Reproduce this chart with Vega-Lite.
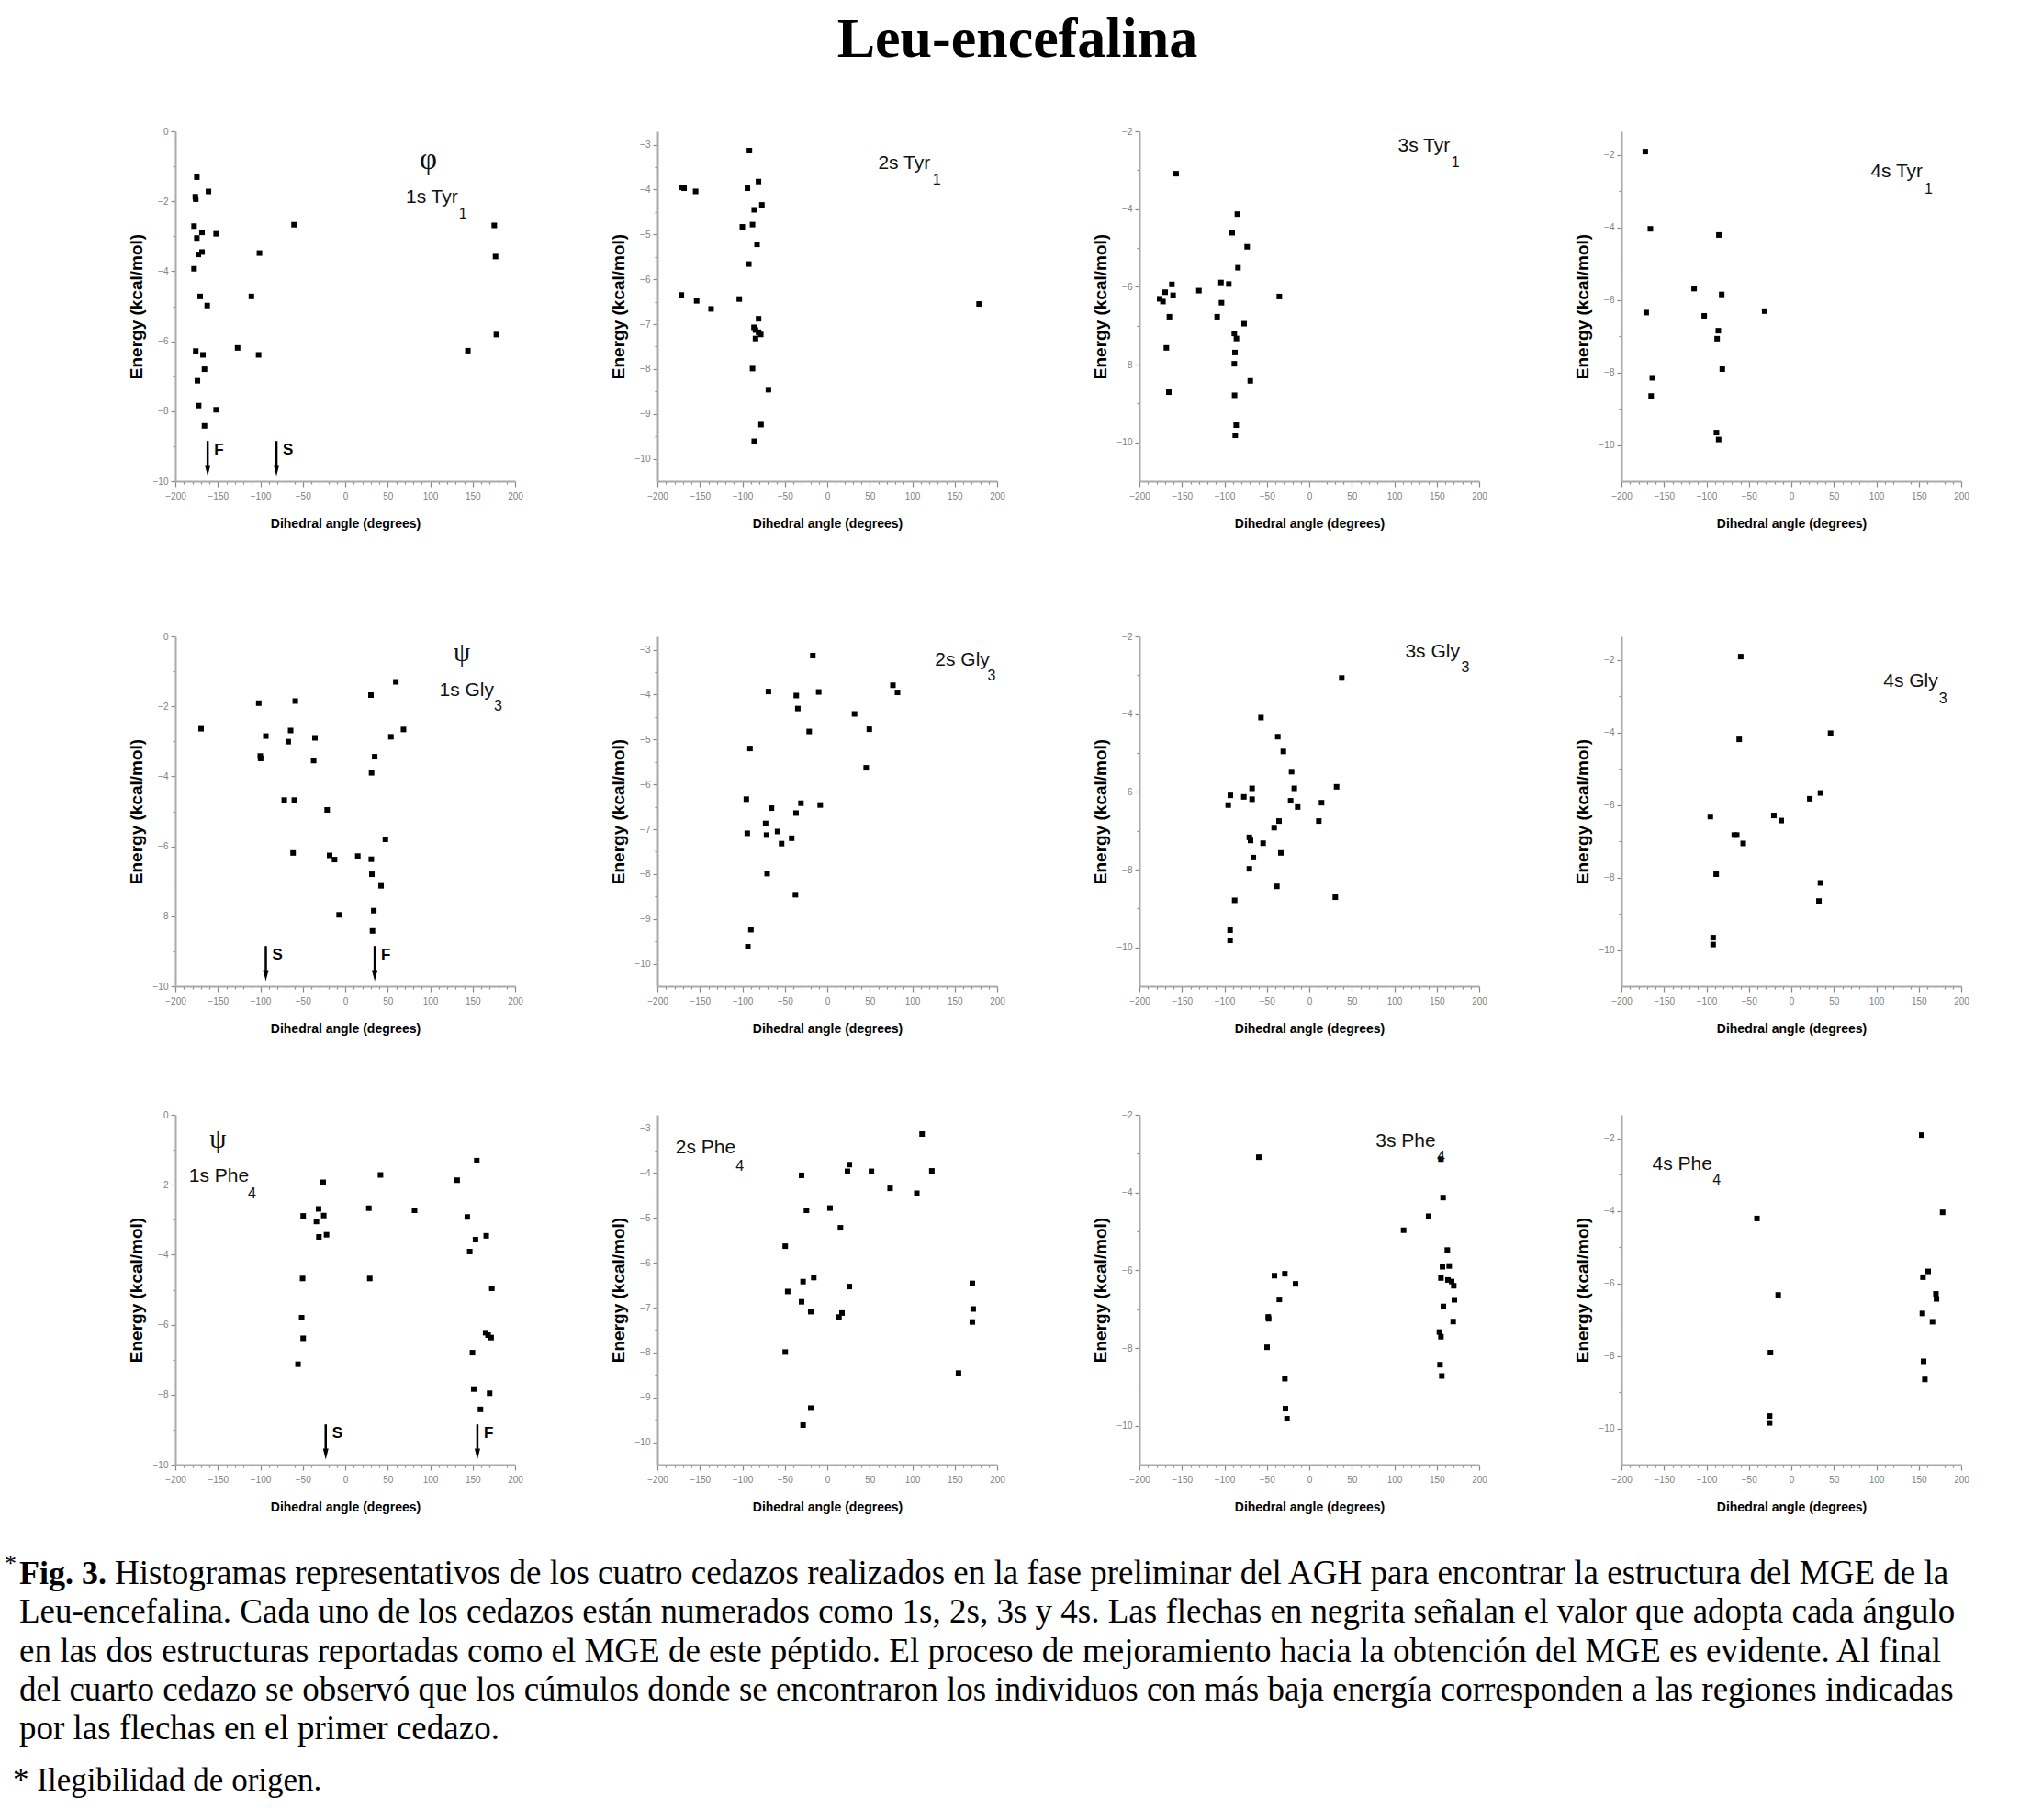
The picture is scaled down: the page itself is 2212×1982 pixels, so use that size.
{
"$schema":"https://vega.github.io/schema/vega-lite/v6.json",
"background":"white",
"padding":{"left":5,"right":10,"top":12,"bottom":10},
"title":{"text":"Leu-encefalina","font":"Liberation Serif","fontSize":62,"fontWeight":"bold","color":"#000","anchor":"middle","frame":"bounds","offset":63,"dx":15},
"datasets":{
"pts":[
{"p":1,"a":-174.7,"e":-1.31},{"p":1,"a":-161,"e":-1.72},{"p":1,"a":-176.5,"e":-1.87},{"p":1,"a":-176,"e":-1.94},{"p":1,"a":-178,"e":-2.71},{"p":1,"a":-60.3,"e":-2.67},{"p":1,"a":175.5,"e":-2.69},{"p":1,"a":-168.6,"e":-2.89},{"p":1,"a":-152,"e":-2.93},{"p":1,"a":-174.7,"e":-3.05},{"p":1,"a":-168.6,"e":-3.45},{"p":1,"a":-173,"e":-3.52},{"p":1,"a":-101,"e":-3.48},{"p":1,"a":177,"e":-3.58},{"p":1,"a":-178,"e":-3.93},{"p":1,"a":-170.8,"e":-4.72},{"p":1,"a":-162.5,"e":-4.98},{"p":1,"a":-110.5,"e":-4.72},{"p":1,"a":178,"e":-5.81},{"p":1,"a":144.4,"e":-6.27},{"p":1,"a":-126.7,"e":-6.19},{"p":1,"a":-102,"e":-6.39},{"p":1,"a":-176,"e":-6.28},{"p":1,"a":-167.5,"e":-6.39},{"p":1,"a":-165.7,"e":-6.8},{"p":1,"a":-174,"e":-7.13},{"p":1,"a":-172.6,"e":-7.84},{"p":1,"a":-152,"e":-7.96},{"p":1,"a":-165.7,"e":-8.42},
{"p":2,"a":-91.7,"e":-3.13},{"p":2,"a":-171,"e":-3.95},{"p":2,"a":-168.6,"e":-3.97},{"p":2,"a":-155,"e":-4.04},{"p":2,"a":-94,"e":-3.97},{"p":2,"a":-81,"e":-3.82},{"p":2,"a":-86,"e":-4.45},{"p":2,"a":-77,"e":-4.34},{"p":2,"a":-100,"e":-4.83},{"p":2,"a":-88,"e":-4.78},{"p":2,"a":-82.7,"e":-5.22},{"p":2,"a":-92.4,"e":-5.66},{"p":2,"a":-171.8,"e":-6.35},{"p":2,"a":-153.8,"e":-6.48},{"p":2,"a":-136.8,"e":-6.66},{"p":2,"a":-103.6,"e":-6.44},{"p":2,"a":178.7,"e":-6.55},{"p":2,"a":-80.9,"e":-6.88},{"p":2,"a":-86.3,"e":-7.07},{"p":2,"a":-84.5,"e":-7.13},{"p":2,"a":-80.9,"e":-7.18},{"p":2,"a":-78.3,"e":-7.23},{"p":2,"a":-84.5,"e":-7.32},{"p":2,"a":-88,"e":-7.99},{"p":2,"a":-69.3,"e":-8.46},{"p":2,"a":-78,"e":-9.24},{"p":2,"a":-86,"e":-9.61},
{"p":3,"a":-156.8,"e":-3.09},{"p":3,"a":-84.7,"e":-4.13},{"p":3,"a":-90.8,"e":-4.61},{"p":3,"a":-73.2,"e":-4.97},{"p":3,"a":-84,"e":-5.51},{"p":3,"a":-104,"e":-5.89},{"p":3,"a":-94.8,"e":-5.93},{"p":3,"a":-161.8,"e":-5.94},{"p":3,"a":-169.7,"e":-6.14},{"p":3,"a":-160.4,"e":-6.22},{"p":3,"a":-130,"e":-6.1},{"p":3,"a":-176.2,"e":-6.31},{"p":3,"a":-172.3,"e":-6.38},{"p":3,"a":-103.4,"e":-6.41},{"p":3,"a":-35.3,"e":-6.25},{"p":3,"a":-164.7,"e":-6.77},{"p":3,"a":-108.5,"e":-6.77},{"p":3,"a":-76.8,"e":-6.95},{"p":3,"a":-88.3,"e":-7.2},{"p":3,"a":-85.8,"e":-7.33},{"p":3,"a":-87.6,"e":-7.69},{"p":3,"a":-88.3,"e":-7.98},{"p":3,"a":-69.5,"e":-8.42},{"p":3,"a":-168.3,"e":-7.57},{"p":3,"a":-165.4,"e":-8.71},{"p":3,"a":-88,"e":-8.79},{"p":3,"a":-86.1,"e":-9.56},{"p":3,"a":-87.2,"e":-9.82},
{"p":4,"a":-172,"e":-1.91},{"p":4,"a":-166,"e":-4.04},{"p":4,"a":-85.3,"e":-4.21},{"p":4,"a":-114.5,"e":-5.69},{"p":4,"a":-82,"e":-5.85},{"p":4,"a":-170.9,"e":-6.35},{"p":4,"a":-102.6,"e":-6.44},{"p":4,"a":-31.4,"e":-6.31},{"p":4,"a":-86,"e":-6.85},{"p":4,"a":-87.4,"e":-7.07},{"p":4,"a":-81.3,"e":-7.91},{"p":4,"a":-163.7,"e":-8.15},{"p":4,"a":-165.1,"e":-8.65},{"p":4,"a":-88.2,"e":-9.66},{"p":4,"a":-85.6,"e":-9.85},
{"p":5,"a":-169.7,"e":-2.64},{"p":5,"a":-101.8,"e":-1.91},{"p":5,"a":-58.8,"e":-1.85},{"p":5,"a":-64.3,"e":-2.69},{"p":5,"a":-93.5,"e":-2.85},{"p":5,"a":-67.1,"e":-3.01},{"p":5,"a":-35.7,"e":-2.9},{"p":5,"a":-100,"e":-3.42},{"p":5,"a":-99.6,"e":-3.49},{"p":5,"a":-37.2,"e":-3.55},{"p":5,"a":-71.8,"e":-4.68},{"p":5,"a":-59.9,"e":-4.68},{"p":5,"a":-21.3,"e":-4.96},{"p":5,"a":-61.4,"e":-6.19},{"p":5,"a":-18.4,"e":-6.26},{"p":5,"a":-12.6,"e":-6.38},{"p":5,"a":14.8,"e":-6.28},{"p":5,"a":30.7,"e":-6.37},{"p":5,"a":30.3,"e":-1.68},{"p":5,"a":59.6,"e":-1.3},{"p":5,"a":68.6,"e":-2.66},{"p":5,"a":53.8,"e":-2.87},{"p":5,"a":34.7,"e":-3.44},{"p":5,"a":31,"e":-3.9},{"p":5,"a":47.3,"e":-5.8},{"p":5,"a":31.4,"e":-6.8},{"p":5,"a":42.2,"e":-7.13},{"p":5,"a":33.6,"e":-7.84},{"p":5,"a":-7.2,"e":-7.96},{"p":5,"a":32.1,"e":-8.42},
{"p":6,"a":-17,"e":-3.13},{"p":6,"a":-69.3,"e":-3.93},{"p":6,"a":-36.5,"e":-4.02},{"p":6,"a":-10.1,"e":-3.94},{"p":6,"a":-34.7,"e":-4.31},{"p":6,"a":-21.3,"e":-4.82},{"p":6,"a":77.3,"e":-3.79},{"p":6,"a":82.7,"e":-3.95},{"p":6,"a":32.1,"e":-4.43},{"p":6,"a":49.5,"e":-4.77},{"p":6,"a":-91,"e":-5.2},{"p":6,"a":45.8,"e":-5.63},{"p":6,"a":-95.3,"e":-6.33},{"p":6,"a":-65.7,"e":-6.53},{"p":6,"a":-31,"e":-6.42},{"p":6,"a":-8.3,"e":-6.46},{"p":6,"a":-36.8,"e":-6.64},{"p":6,"a":-72.6,"e":-6.87},{"p":6,"a":-94.2,"e":-7.09},{"p":6,"a":-71.5,"e":-7.13},{"p":6,"a":-58.5,"e":-7.05},{"p":6,"a":-53.8,"e":-7.32},{"p":6,"a":-41.9,"e":-7.2},{"p":6,"a":-70.8,"e":-7.99},{"p":6,"a":-37.5,"e":-8.46},{"p":6,"a":-89.9,"e":-9.24},{"p":6,"a":-93.5,"e":-9.62},
{"p":7,"a":38.2,"e":-3.07},{"p":7,"a":-56.9,"e":-4.09},{"p":7,"a":-37.1,"e":-4.58},{"p":7,"a":-30.6,"e":-4.96},{"p":7,"a":-20.9,"e":-5.48},{"p":7,"a":-17.7,"e":-5.91},{"p":7,"a":32.1,"e":-5.87},{"p":7,"a":-93,"e":-6.09},{"p":7,"a":-77.1,"e":-6.13},{"p":7,"a":-67.4,"e":-5.91},{"p":7,"a":-67.4,"e":-6.19},{"p":7,"a":-95.5,"e":-6.34},{"p":7,"a":-22,"e":-6.23},{"p":7,"a":-13.7,"e":-6.39},{"p":7,"a":14.4,"e":-6.28},{"p":7,"a":-35.7,"e":-6.75},{"p":7,"a":-41.4,"e":-6.92},{"p":7,"a":11.2,"e":-6.75},{"p":7,"a":-70.6,"e":-7.17},{"p":7,"a":-69.2,"e":-7.25},{"p":7,"a":-54.4,"e":-7.32},{"p":7,"a":-33.5,"e":-7.57},{"p":7,"a":-65.9,"e":-7.69},{"p":7,"a":-70.6,"e":-7.98},{"p":7,"a":-38.2,"e":-8.43},{"p":7,"a":30.6,"e":-8.71},{"p":7,"a":-87.9,"e":-8.79},{"p":7,"a":-93.3,"e":-9.56},{"p":7,"a":-93.3,"e":-9.82},
{"p":8,"a":-59.6,"e":-1.91},{"p":8,"a":-61.4,"e":-4.19},{"p":8,"a":46.2,"e":-4.02},{"p":8,"a":34.3,"e":-5.67},{"p":8,"a":21.7,"e":-5.83},{"p":8,"a":-95.4,"e":-6.32},{"p":8,"a":-20.6,"e":-6.29},{"p":8,"a":-11.9,"e":-6.43},{"p":8,"a":-67.2,"e":-6.83},{"p":8,"a":-64.3,"e":-6.83},{"p":8,"a":-56.7,"e":-7.06},{"p":8,"a":-88.5,"e":-7.91},{"p":8,"a":34.3,"e":-8.15},{"p":8,"a":32.5,"e":-8.65},{"p":8,"a":-92.1,"e":-9.66},{"p":8,"a":-92.1,"e":-9.85},
{"p":9,"a":-26,"e":-1.93},{"p":9,"a":-49.5,"e":-2.89},{"p":9,"a":-31.4,"e":-2.69},{"p":9,"a":-25.3,"e":-2.88},{"p":9,"a":-33.9,"e":-3.05},{"p":9,"a":-31,"e":-3.49},{"p":9,"a":-22,"e":-3.43},{"p":9,"a":-50.2,"e":-4.68},{"p":9,"a":-51.3,"e":-5.8},{"p":9,"a":-49.5,"e":-6.39},{"p":9,"a":-55.6,"e":-7.13},{"p":9,"a":27.8,"e":-2.67},{"p":9,"a":28.9,"e":-4.68},{"p":9,"a":41.5,"e":-1.72},{"p":9,"a":81.6,"e":-2.73},{"p":9,"a":131.8,"e":-1.87},{"p":9,"a":154.9,"e":-1.31},{"p":9,"a":143.7,"e":-2.92},{"p":9,"a":153.4,"e":-3.57},{"p":9,"a":166,"e":-3.46},{"p":9,"a":146.6,"e":-3.91},{"p":9,"a":172.6,"e":-4.96},{"p":9,"a":165.3,"e":-6.23},{"p":9,"a":168.2,"e":-6.3},{"p":9,"a":171.8,"e":-6.37},{"p":9,"a":149.8,"e":-6.8},{"p":9,"a":151.3,"e":-7.84},{"p":9,"a":170,"e":-7.96},{"p":9,"a":159.2,"e":-8.42},
{"p":10,"a":111.6,"e":-3.13},{"p":10,"a":-30.3,"e":-4.05},{"p":10,"a":26,"e":-3.81},{"p":10,"a":23.8,"e":-3.96},{"p":10,"a":52,"e":-3.96},{"p":10,"a":74,"e":-4.34},{"p":10,"a":105.4,"e":-4.45},{"p":10,"a":123.1,"e":-3.95},{"p":10,"a":-24.5,"e":-4.83},{"p":10,"a":3.2,"e":-4.78},{"p":10,"a":15.5,"e":-5.22},{"p":10,"a":-49.5,"e":-5.63},{"p":10,"a":-15.9,"e":-6.33},{"p":10,"a":-28.5,"e":-6.42},{"p":10,"a":-46.6,"e":-6.64},{"p":10,"a":26,"e":-6.53},{"p":10,"a":-30.3,"e":-6.87},{"p":10,"a":-19.5,"e":-7.09},{"p":10,"a":13.7,"e":-7.21},{"p":10,"a":17.3,"e":-7.12},{"p":10,"a":-49.5,"e":-7.99},{"p":10,"a":-19.5,"e":-9.24},{"p":10,"a":-28.5,"e":-9.62},{"p":10,"a":170.8,"e":-6.46},{"p":10,"a":171.8,"e":-7.03},{"p":10,"a":170.8,"e":-7.32},{"p":10,"a":154.5,"e":-8.46},
{"p":11,"a":-59.5,"e":-3.09},{"p":11,"a":-41.1,"e":-6.14},{"p":11,"a":-28.8,"e":-6.09},{"p":11,"a":-16.2,"e":-6.35},{"p":11,"a":-35.3,"e":-6.75},{"p":11,"a":-48.3,"e":-7.2},{"p":11,"a":-47.9,"e":-7.25},{"p":11,"a":-49.7,"e":-7.98},{"p":11,"a":-28.8,"e":-8.79},{"p":11,"a":-28.1,"e":-9.56},{"p":11,"a":-26.3,"e":-9.82},{"p":11,"a":155,"e":-3.14},{"p":11,"a":157.5,"e":-4.13},{"p":11,"a":140.5,"e":-4.61},{"p":11,"a":111,"e":-4.97},{"p":11,"a":162.5,"e":-5.48},{"p":11,"a":156.8,"e":-5.91},{"p":11,"a":164.7,"e":-5.89},{"p":11,"a":155,"e":-6.2},{"p":11,"a":163.2,"e":-6.25},{"p":11,"a":167.6,"e":-6.29},{"p":11,"a":170.1,"e":-6.4},{"p":11,"a":170.8,"e":-6.76},{"p":11,"a":157.8,"e":-6.93},{"p":11,"a":169.4,"e":-7.32},{"p":11,"a":153.2,"e":-7.59},{"p":11,"a":155,"e":-7.71},{"p":11,"a":153.9,"e":-8.43},{"p":11,"a":156,"e":-8.72},
{"p":12,"a":153.5,"e":-1.91},{"p":12,"a":-40.5,"e":-4.21},{"p":12,"a":178.1,"e":-4.04},{"p":12,"a":161.1,"e":-5.67},{"p":12,"a":155,"e":-5.83},{"p":12,"a":-15.5,"e":-6.32},{"p":12,"a":170.2,"e":-6.29},{"p":12,"a":170.9,"e":-6.43},{"p":12,"a":154.3,"e":-6.83},{"p":12,"a":166.2,"e":-7.06},{"p":12,"a":-24.6,"e":-7.91},{"p":12,"a":155.7,"e":-8.15},{"p":12,"a":157.2,"e":-8.65},{"p":12,"a":-25.6,"e":-9.66},{"p":12,"a":-25.6,"e":-9.85}
],
"lab":[
{"p":1,"a":102,"e":-1.9,"t":"1s Tyr","k":"main"},{"p":1,"a":138.6,"e":-2.36,"t":"1","k":"sub"},
{"p":2,"a":90.6,"e":-3.41,"t":"2s Tyr","k":"main"},{"p":2,"a":129,"e":-3.79,"t":"1","k":"sub"},
{"p":3,"a":135,"e":-2.37,"t":"3s Tyr","k":"main"},{"p":3,"a":172,"e":-2.81,"t":"1","k":"sub"},
{"p":4,"a":124,"e":-2.47,"t":"4s Tyr","k":"main"},{"p":4,"a":161.5,"e":-2.94,"t":"1","k":"sub"},
{"p":5,"a":143,"e":-1.55,"t":"1s Gly","k":"main"},{"p":5,"a":180,"e":-1.99,"t":"3","k":"sub"},
{"p":6,"a":159,"e":-3.24,"t":"2s Gly","k":"main"},{"p":6,"a":193.5,"e":-3.58,"t":"3","k":"sub"},
{"p":7,"a":145,"e":-2.41,"t":"3s Gly","k":"main"},{"p":7,"a":183.8,"e":-2.81,"t":"3","k":"sub"},
{"p":8,"a":140.5,"e":-2.6,"t":"4s Gly","k":"main"},{"p":8,"a":178.5,"e":-3.06,"t":"3","k":"sub"},
{"p":9,"a":-148.7,"e":-1.77,"t":"1s Phe","k":"main"},{"p":9,"a":-109.7,"e":-2.25,"t":"4","k":"sub"},
{"p":10,"a":-143.3,"e":-3.44,"t":"2s Phe","k":"main"},{"p":10,"a":-103,"e":-3.84,"t":"4","k":"sub"},
{"p":11,"a":113.5,"e":-2.69,"t":"3s Phe","k":"main"},{"p":11,"a":155,"e":-3.08,"t":"4","k":"sub"},
{"p":12,"a":-128.5,"e":-2.72,"t":"4s Phe","k":"main"},{"p":12,"a":-88,"e":-3.15,"t":"4","k":"sub"}
],
"grk":[
{"p":1,"a":97.8,"e":-0.81,"t":"φ"},{"p":5,"a":137.5,"e":-0.46,"t":"ψ"},{"p":9,"a":-150,"e":-0.72,"t":"ψ"}
],
"arr":[
{"p":1,"a":-162,"t":"F"},{"p":1,"a":-81,"t":"S"},{"p":5,"a":-93.5,"t":"S"},{"p":5,"a":34.7,"t":"F"},{"p":9,"a":-23,"t":"S"},{"p":9,"a":155.6,"t":"F"}
],
"cap":[
{"line":1,"s":"star","t":"*"},
{"line":1,"s":"b","t":"Fig. 3."},
{"line":1,"s":"r","t":"Histogramas representativos de los cuatro cedazos realizados en la fase preliminar del AGH para encontrar la estructura del MGE de la"},
{"line":2,"s":"n","t":"Leu-encefalina. Cada uno de los cedazos están numerados como 1s, 2s, 3s y 4s. Las flechas en negrita señalan el valor que adopta cada ángulo"},
{"line":3,"s":"n","t":"en las dos estructuras reportadas como el MGE de este péptido. El proceso de mejoramiento hacia la obtención del MGE es evidente. Al final"},
{"line":4,"s":"n","t":"del cuarto cedazo se observó que los cúmulos donde se encontraron los individuos con más baja energía corresponden a las regiones indicadas"},
{"line":5,"s":"n","t":"por las flechas en el primer cedazo."},
{"line":6,"s":"foot","t":"* Ilegibilidad de origen."}
]
},
"vconcat":[
{"vconcat":[
{"vconcat":[
{"hconcat":[
{"width":370,"height":381,"layer":[
 {"data":{"name":"pts"},"transform":[{"filter":"datum.p===1"}],"mark":{"type":"point","shape":"square","filled":true,"color":"#000","opacity":1,"size":36},
  "encoding":{"x":{"field":"a","type":"quantitative","title":"Dihedral angle (degrees)","scale":{"domain":[-200,200],"nice":false,"zero":false},"axis":{"tickCount":100,"labelOverlap":false,"values":[-200,-190,-180,-170,-160,-150,-140,-130,-120,-110,-100,-90,-80,-70,-60,-50,-40,-30,-20,-10,0,10,20,30,40,50,60,70,80,90,100,110,120,130,140,150,160,170,180,190,200],"labelExpr":"datum.value % 50 === 0 ? format(datum.value,'d') : ''","tickSize":{"condition":{"test":"datum.value % 50 === 0","value":6},"value":3}}},
  "y":{"field":"e","type":"quantitative","title":"Energy (kcal/mol)","scale":{"domain":[-10,0],"nice":false,"zero":false},"axis":{"tickCount":100,"labelOverlap":false,"values":[-10,-9,-8,-7,-6,-5,-4,-3,-2,-1,0],"labelExpr":"datum.value % 2 === 0 ? format(datum.value,'d') : ''","tickSize":{"condition":{"test":"datum.value % 2 === 0","value":5},"value":3}}}}},
 {"data":{"name":"lab"},"transform":[{"filter":"datum.p===1"}],"mark":{"type":"text","font":"Liberation Sans","color":"#111","align":"center","baseline":"middle"},
  "encoding":{"x":{"field":"a","type":"quantitative","title":"Dihedral angle (degrees)"},"y":{"field":"e","type":"quantitative","title":"Energy (kcal/mol)"},"text":{"field":"t"},"size":{"field":"k","type":"nominal","scale":{"domain":["main","sub"],"range":[21,16]},"legend":null}}},
 {"data":{"name":"grk"},"transform":[{"filter":"datum.p===1"}],"mark":{"type":"text","font":"Liberation Serif","fontSize":33,"color":"#111","align":"center","baseline":"middle"},
  "encoding":{"x":{"field":"a","type":"quantitative","title":"Dihedral angle (degrees)"},"y":{"field":"e","type":"quantitative","title":"Energy (kcal/mol)"},"text":{"field":"t"}}},
 {"data":{"name":"arr"},"transform":[{"filter":"datum.p===1"}],"mark":{"type":"rule","color":"#000","strokeWidth":2.5},
  "encoding":{"x":{"field":"a","type":"quantitative","title":"Dihedral angle (degrees)"},"y":{"datum":-8.85,"type":"quantitative"},"y2":{"datum":-9.6}}},
 {"data":{"name":"arr"},"transform":[{"filter":"datum.p===1"}],"mark":{"type":"point","shape":"M-0.5,-1L0.5,-1L0,1Z","filled":true,"color":"#000","opacity":1,"size":144},
  "encoding":{"x":{"field":"a","type":"quantitative","title":"Dihedral angle (degrees)"},"y":{"datum":-9.7,"type":"quantitative"}}},
 {"data":{"name":"arr"},"transform":[{"filter":"datum.p===1"}],"mark":{"type":"text","font":"Liberation Sans","fontWeight":"bold","fontSize":17,"align":"left","baseline":"middle","dx":7,"color":"#000"},
  "encoding":{"x":{"field":"a","type":"quantitative","title":"Dihedral angle (degrees)"},"y":{"datum":-9.1,"type":"quantitative"},"text":{"field":"t"}}}
]},
{"width":370,"height":381,"layer":[
 {"data":{"name":"pts"},"transform":[{"filter":"datum.p===2"}],"mark":{"type":"point","shape":"square","filled":true,"color":"#000","opacity":1,"size":36},
  "encoding":{"x":{"field":"a","type":"quantitative","title":"Dihedral angle (degrees)","scale":{"domain":[-200,200],"nice":false,"zero":false},"axis":{"tickCount":100,"labelOverlap":false,"values":[-200,-190,-180,-170,-160,-150,-140,-130,-120,-110,-100,-90,-80,-70,-60,-50,-40,-30,-20,-10,0,10,20,30,40,50,60,70,80,90,100,110,120,130,140,150,160,170,180,190,200],"labelExpr":"datum.value % 50 === 0 ? format(datum.value,'d') : ''","tickSize":{"condition":{"test":"datum.value % 50 === 0","value":6},"value":3}}},
  "y":{"field":"e","type":"quantitative","title":"Energy (kcal/mol)","scale":{"domain":[-10.5,-2.7],"nice":false,"zero":false},"axis":{"tickCount":100,"labelOverlap":false,"values":[-10,-9.5,-9,-8.5,-8,-7.5,-7,-6.5,-6,-5.5,-5,-4.5,-4,-3.5,-3],"labelExpr":"datum.value % 1 === 0 ? format(datum.value,'d') : ''","tickSize":{"condition":{"test":"datum.value % 1 === 0","value":5},"value":3}}}}},
 {"data":{"name":"lab"},"transform":[{"filter":"datum.p===2"}],"mark":{"type":"text","font":"Liberation Sans","color":"#111","align":"center","baseline":"middle"},
  "encoding":{"x":{"field":"a","type":"quantitative","title":"Dihedral angle (degrees)"},"y":{"field":"e","type":"quantitative","title":"Energy (kcal/mol)"},"text":{"field":"t"},"size":{"field":"k","type":"nominal","scale":{"domain":["main","sub"],"range":[21,16]},"legend":null}}}
]},
{"width":370,"height":381,"layer":[
 {"data":{"name":"pts"},"transform":[{"filter":"datum.p===3"}],"mark":{"type":"point","shape":"square","filled":true,"color":"#000","opacity":1,"size":36},
  "encoding":{"x":{"field":"a","type":"quantitative","title":"Dihedral angle (degrees)","scale":{"domain":[-200,200],"nice":false,"zero":false},"axis":{"tickCount":100,"labelOverlap":false,"values":[-200,-190,-180,-170,-160,-150,-140,-130,-120,-110,-100,-90,-80,-70,-60,-50,-40,-30,-20,-10,0,10,20,30,40,50,60,70,80,90,100,110,120,130,140,150,160,170,180,190,200],"labelExpr":"datum.value % 50 === 0 ? format(datum.value,'d') : ''","tickSize":{"condition":{"test":"datum.value % 50 === 0","value":6},"value":3}}},
  "y":{"field":"e","type":"quantitative","title":"Energy (kcal/mol)","scale":{"domain":[-11,-2],"nice":false,"zero":false},"axis":{"tickCount":100,"labelOverlap":false,"values":[-10,-9,-8,-7,-6,-5,-4,-3,-2],"labelExpr":"datum.value % 2 === 0 ? format(datum.value,'d') : ''","tickSize":{"condition":{"test":"datum.value % 2 === 0","value":5},"value":3}}}}},
 {"data":{"name":"lab"},"transform":[{"filter":"datum.p===3"}],"mark":{"type":"text","font":"Liberation Sans","color":"#111","align":"center","baseline":"middle"},
  "encoding":{"x":{"field":"a","type":"quantitative","title":"Dihedral angle (degrees)"},"y":{"field":"e","type":"quantitative","title":"Energy (kcal/mol)"},"text":{"field":"t"},"size":{"field":"k","type":"nominal","scale":{"domain":["main","sub"],"range":[21,16]},"legend":null}}}
]},
{"width":370,"height":381,"layer":[
 {"data":{"name":"pts"},"transform":[{"filter":"datum.p===4"}],"mark":{"type":"point","shape":"square","filled":true,"color":"#000","opacity":1,"size":36},
  "encoding":{"x":{"field":"a","type":"quantitative","title":"Dihedral angle (degrees)","scale":{"domain":[-200,200],"nice":false,"zero":false},"axis":{"tickCount":100,"labelOverlap":false,"values":[-200,-190,-180,-170,-160,-150,-140,-130,-120,-110,-100,-90,-80,-70,-60,-50,-40,-30,-20,-10,0,10,20,30,40,50,60,70,80,90,100,110,120,130,140,150,160,170,180,190,200],"labelExpr":"datum.value % 50 === 0 ? format(datum.value,'d') : ''","tickSize":{"condition":{"test":"datum.value % 50 === 0","value":6},"value":3}}},
  "y":{"field":"e","type":"quantitative","title":"Energy (kcal/mol)","scale":{"domain":[-11,-1.35],"nice":false,"zero":false},"axis":{"tickCount":100,"labelOverlap":false,"values":[-10,-9,-8,-7,-6,-5,-4,-3,-2],"labelExpr":"datum.value % 2 === 0 ? format(datum.value,'d') : ''","tickSize":{"condition":{"test":"datum.value % 2 === 0","value":5},"value":3}}}}},
 {"data":{"name":"lab"},"transform":[{"filter":"datum.p===4"}],"mark":{"type":"text","font":"Liberation Sans","color":"#111","align":"center","baseline":"middle"},
  "encoding":{"x":{"field":"a","type":"quantitative","title":"Dihedral angle (degrees)"},"y":{"field":"e","type":"quantitative","title":"Energy (kcal/mol)"},"text":{"field":"t"},"size":{"field":"k","type":"nominal","scale":{"domain":["main","sub"],"range":[21,16]},"legend":null}}}
]}
],"spacing":155,"bounds":"flush"},
{"hconcat":[
{"width":370,"height":381,"layer":[
 {"data":{"name":"pts"},"transform":[{"filter":"datum.p===5"}],"mark":{"type":"point","shape":"square","filled":true,"color":"#000","opacity":1,"size":36},
  "encoding":{"x":{"field":"a","type":"quantitative","title":"Dihedral angle (degrees)","scale":{"domain":[-200,200],"nice":false,"zero":false},"axis":{"tickCount":100,"labelOverlap":false,"values":[-200,-190,-180,-170,-160,-150,-140,-130,-120,-110,-100,-90,-80,-70,-60,-50,-40,-30,-20,-10,0,10,20,30,40,50,60,70,80,90,100,110,120,130,140,150,160,170,180,190,200],"labelExpr":"datum.value % 50 === 0 ? format(datum.value,'d') : ''","tickSize":{"condition":{"test":"datum.value % 50 === 0","value":6},"value":3}}},
  "y":{"field":"e","type":"quantitative","title":"Energy (kcal/mol)","scale":{"domain":[-10,0],"nice":false,"zero":false},"axis":{"tickCount":100,"labelOverlap":false,"values":[-10,-9,-8,-7,-6,-5,-4,-3,-2,-1,0],"labelExpr":"datum.value % 2 === 0 ? format(datum.value,'d') : ''","tickSize":{"condition":{"test":"datum.value % 2 === 0","value":5},"value":3}}}}},
 {"data":{"name":"lab"},"transform":[{"filter":"datum.p===5"}],"mark":{"type":"text","font":"Liberation Sans","color":"#111","align":"center","baseline":"middle"},
  "encoding":{"x":{"field":"a","type":"quantitative","title":"Dihedral angle (degrees)"},"y":{"field":"e","type":"quantitative","title":"Energy (kcal/mol)"},"text":{"field":"t"},"size":{"field":"k","type":"nominal","scale":{"domain":["main","sub"],"range":[21,16]},"legend":null}}},
 {"data":{"name":"grk"},"transform":[{"filter":"datum.p===5"}],"mark":{"type":"text","font":"Liberation Serif","fontSize":29,"color":"#111","align":"center","baseline":"middle"},
  "encoding":{"x":{"field":"a","type":"quantitative","title":"Dihedral angle (degrees)"},"y":{"field":"e","type":"quantitative","title":"Energy (kcal/mol)"},"text":{"field":"t"}}},
 {"data":{"name":"arr"},"transform":[{"filter":"datum.p===5"}],"mark":{"type":"rule","color":"#000","strokeWidth":2.5},
  "encoding":{"x":{"field":"a","type":"quantitative","title":"Dihedral angle (degrees)"},"y":{"datum":-8.85,"type":"quantitative"},"y2":{"datum":-9.6}}},
 {"data":{"name":"arr"},"transform":[{"filter":"datum.p===5"}],"mark":{"type":"point","shape":"M-0.5,-1L0.5,-1L0,1Z","filled":true,"color":"#000","opacity":1,"size":144},
  "encoding":{"x":{"field":"a","type":"quantitative","title":"Dihedral angle (degrees)"},"y":{"datum":-9.7,"type":"quantitative"}}},
 {"data":{"name":"arr"},"transform":[{"filter":"datum.p===5"}],"mark":{"type":"text","font":"Liberation Sans","fontWeight":"bold","fontSize":17,"align":"left","baseline":"middle","dx":7,"color":"#000"},
  "encoding":{"x":{"field":"a","type":"quantitative","title":"Dihedral angle (degrees)"},"y":{"datum":-9.1,"type":"quantitative"},"text":{"field":"t"}}}
]},
{"width":370,"height":381,"layer":[
 {"data":{"name":"pts"},"transform":[{"filter":"datum.p===6"}],"mark":{"type":"point","shape":"square","filled":true,"color":"#000","opacity":1,"size":36},
  "encoding":{"x":{"field":"a","type":"quantitative","title":"Dihedral angle (degrees)","scale":{"domain":[-200,200],"nice":false,"zero":false},"axis":{"tickCount":100,"labelOverlap":false,"values":[-200,-190,-180,-170,-160,-150,-140,-130,-120,-110,-100,-90,-80,-70,-60,-50,-40,-30,-20,-10,0,10,20,30,40,50,60,70,80,90,100,110,120,130,140,150,160,170,180,190,200],"labelExpr":"datum.value % 50 === 0 ? format(datum.value,'d') : ''","tickSize":{"condition":{"test":"datum.value % 50 === 0","value":6},"value":3}}},
  "y":{"field":"e","type":"quantitative","title":"Energy (kcal/mol)","scale":{"domain":[-10.5,-2.7],"nice":false,"zero":false},"axis":{"tickCount":100,"labelOverlap":false,"values":[-10,-9.5,-9,-8.5,-8,-7.5,-7,-6.5,-6,-5.5,-5,-4.5,-4,-3.5,-3],"labelExpr":"datum.value % 1 === 0 ? format(datum.value,'d') : ''","tickSize":{"condition":{"test":"datum.value % 1 === 0","value":5},"value":3}}}}},
 {"data":{"name":"lab"},"transform":[{"filter":"datum.p===6"}],"mark":{"type":"text","font":"Liberation Sans","color":"#111","align":"center","baseline":"middle"},
  "encoding":{"x":{"field":"a","type":"quantitative","title":"Dihedral angle (degrees)"},"y":{"field":"e","type":"quantitative","title":"Energy (kcal/mol)"},"text":{"field":"t"},"size":{"field":"k","type":"nominal","scale":{"domain":["main","sub"],"range":[21,16]},"legend":null}}}
]},
{"width":370,"height":381,"layer":[
 {"data":{"name":"pts"},"transform":[{"filter":"datum.p===7"}],"mark":{"type":"point","shape":"square","filled":true,"color":"#000","opacity":1,"size":36},
  "encoding":{"x":{"field":"a","type":"quantitative","title":"Dihedral angle (degrees)","scale":{"domain":[-200,200],"nice":false,"zero":false},"axis":{"tickCount":100,"labelOverlap":false,"values":[-200,-190,-180,-170,-160,-150,-140,-130,-120,-110,-100,-90,-80,-70,-60,-50,-40,-30,-20,-10,0,10,20,30,40,50,60,70,80,90,100,110,120,130,140,150,160,170,180,190,200],"labelExpr":"datum.value % 50 === 0 ? format(datum.value,'d') : ''","tickSize":{"condition":{"test":"datum.value % 50 === 0","value":6},"value":3}}},
  "y":{"field":"e","type":"quantitative","title":"Energy (kcal/mol)","scale":{"domain":[-11,-2],"nice":false,"zero":false},"axis":{"tickCount":100,"labelOverlap":false,"values":[-10,-9,-8,-7,-6,-5,-4,-3,-2],"labelExpr":"datum.value % 2 === 0 ? format(datum.value,'d') : ''","tickSize":{"condition":{"test":"datum.value % 2 === 0","value":5},"value":3}}}}},
 {"data":{"name":"lab"},"transform":[{"filter":"datum.p===7"}],"mark":{"type":"text","font":"Liberation Sans","color":"#111","align":"center","baseline":"middle"},
  "encoding":{"x":{"field":"a","type":"quantitative","title":"Dihedral angle (degrees)"},"y":{"field":"e","type":"quantitative","title":"Energy (kcal/mol)"},"text":{"field":"t"},"size":{"field":"k","type":"nominal","scale":{"domain":["main","sub"],"range":[21,16]},"legend":null}}}
]},
{"width":370,"height":381,"layer":[
 {"data":{"name":"pts"},"transform":[{"filter":"datum.p===8"}],"mark":{"type":"point","shape":"square","filled":true,"color":"#000","opacity":1,"size":36},
  "encoding":{"x":{"field":"a","type":"quantitative","title":"Dihedral angle (degrees)","scale":{"domain":[-200,200],"nice":false,"zero":false},"axis":{"tickCount":100,"labelOverlap":false,"values":[-200,-190,-180,-170,-160,-150,-140,-130,-120,-110,-100,-90,-80,-70,-60,-50,-40,-30,-20,-10,0,10,20,30,40,50,60,70,80,90,100,110,120,130,140,150,160,170,180,190,200],"labelExpr":"datum.value % 50 === 0 ? format(datum.value,'d') : ''","tickSize":{"condition":{"test":"datum.value % 50 === 0","value":6},"value":3}}},
  "y":{"field":"e","type":"quantitative","title":"Energy (kcal/mol)","scale":{"domain":[-11,-1.35],"nice":false,"zero":false},"axis":{"tickCount":100,"labelOverlap":false,"values":[-10,-9,-8,-7,-6,-5,-4,-3,-2],"labelExpr":"datum.value % 2 === 0 ? format(datum.value,'d') : ''","tickSize":{"condition":{"test":"datum.value % 2 === 0","value":5},"value":3}}}}},
 {"data":{"name":"lab"},"transform":[{"filter":"datum.p===8"}],"mark":{"type":"text","font":"Liberation Sans","color":"#111","align":"center","baseline":"middle"},
  "encoding":{"x":{"field":"a","type":"quantitative","title":"Dihedral angle (degrees)"},"y":{"field":"e","type":"quantitative","title":"Energy (kcal/mol)"},"text":{"field":"t"},"size":{"field":"k","type":"nominal","scale":{"domain":["main","sub"],"range":[21,16]},"legend":null}}}
]}
],"spacing":155,"bounds":"flush"}
],"spacing":111},
{"hconcat":[
{"width":370,"height":381,"layer":[
 {"data":{"name":"pts"},"transform":[{"filter":"datum.p===9"}],"mark":{"type":"point","shape":"square","filled":true,"color":"#000","opacity":1,"size":36},
  "encoding":{"x":{"field":"a","type":"quantitative","title":"Dihedral angle (degrees)","scale":{"domain":[-200,200],"nice":false,"zero":false},"axis":{"tickCount":100,"labelOverlap":false,"values":[-200,-190,-180,-170,-160,-150,-140,-130,-120,-110,-100,-90,-80,-70,-60,-50,-40,-30,-20,-10,0,10,20,30,40,50,60,70,80,90,100,110,120,130,140,150,160,170,180,190,200],"labelExpr":"datum.value % 50 === 0 ? format(datum.value,'d') : ''","tickSize":{"condition":{"test":"datum.value % 50 === 0","value":6},"value":3}}},
  "y":{"field":"e","type":"quantitative","title":"Energy (kcal/mol)","scale":{"domain":[-10,0],"nice":false,"zero":false},"axis":{"tickCount":100,"labelOverlap":false,"values":[-10,-9,-8,-7,-6,-5,-4,-3,-2,-1,0],"labelExpr":"datum.value % 2 === 0 ? format(datum.value,'d') : ''","tickSize":{"condition":{"test":"datum.value % 2 === 0","value":5},"value":3}}}}},
 {"data":{"name":"lab"},"transform":[{"filter":"datum.p===9"}],"mark":{"type":"text","font":"Liberation Sans","color":"#111","align":"center","baseline":"middle"},
  "encoding":{"x":{"field":"a","type":"quantitative","title":"Dihedral angle (degrees)"},"y":{"field":"e","type":"quantitative","title":"Energy (kcal/mol)"},"text":{"field":"t"},"size":{"field":"k","type":"nominal","scale":{"domain":["main","sub"],"range":[21,16]},"legend":null}}},
 {"data":{"name":"grk"},"transform":[{"filter":"datum.p===9"}],"mark":{"type":"text","font":"Liberation Serif","fontSize":29,"color":"#111","align":"center","baseline":"middle"},
  "encoding":{"x":{"field":"a","type":"quantitative","title":"Dihedral angle (degrees)"},"y":{"field":"e","type":"quantitative","title":"Energy (kcal/mol)"},"text":{"field":"t"}}},
 {"data":{"name":"arr"},"transform":[{"filter":"datum.p===9"}],"mark":{"type":"rule","color":"#000","strokeWidth":2.5},
  "encoding":{"x":{"field":"a","type":"quantitative","title":"Dihedral angle (degrees)"},"y":{"datum":-8.85,"type":"quantitative"},"y2":{"datum":-9.6}}},
 {"data":{"name":"arr"},"transform":[{"filter":"datum.p===9"}],"mark":{"type":"point","shape":"M-0.5,-1L0.5,-1L0,1Z","filled":true,"color":"#000","opacity":1,"size":144},
  "encoding":{"x":{"field":"a","type":"quantitative","title":"Dihedral angle (degrees)"},"y":{"datum":-9.7,"type":"quantitative"}}},
 {"data":{"name":"arr"},"transform":[{"filter":"datum.p===9"}],"mark":{"type":"text","font":"Liberation Sans","fontWeight":"bold","fontSize":17,"align":"left","baseline":"middle","dx":7,"color":"#000"},
  "encoding":{"x":{"field":"a","type":"quantitative","title":"Dihedral angle (degrees)"},"y":{"datum":-9.1,"type":"quantitative"},"text":{"field":"t"}}}
]},
{"width":370,"height":381,"layer":[
 {"data":{"name":"pts"},"transform":[{"filter":"datum.p===10"}],"mark":{"type":"point","shape":"square","filled":true,"color":"#000","opacity":1,"size":36},
  "encoding":{"x":{"field":"a","type":"quantitative","title":"Dihedral angle (degrees)","scale":{"domain":[-200,200],"nice":false,"zero":false},"axis":{"tickCount":100,"labelOverlap":false,"values":[-200,-190,-180,-170,-160,-150,-140,-130,-120,-110,-100,-90,-80,-70,-60,-50,-40,-30,-20,-10,0,10,20,30,40,50,60,70,80,90,100,110,120,130,140,150,160,170,180,190,200],"labelExpr":"datum.value % 50 === 0 ? format(datum.value,'d') : ''","tickSize":{"condition":{"test":"datum.value % 50 === 0","value":6},"value":3}}},
  "y":{"field":"e","type":"quantitative","title":"Energy (kcal/mol)","scale":{"domain":[-10.5,-2.7],"nice":false,"zero":false},"axis":{"tickCount":100,"labelOverlap":false,"values":[-10,-9.5,-9,-8.5,-8,-7.5,-7,-6.5,-6,-5.5,-5,-4.5,-4,-3.5,-3],"labelExpr":"datum.value % 1 === 0 ? format(datum.value,'d') : ''","tickSize":{"condition":{"test":"datum.value % 1 === 0","value":5},"value":3}}}}},
 {"data":{"name":"lab"},"transform":[{"filter":"datum.p===10"}],"mark":{"type":"text","font":"Liberation Sans","color":"#111","align":"center","baseline":"middle"},
  "encoding":{"x":{"field":"a","type":"quantitative","title":"Dihedral angle (degrees)"},"y":{"field":"e","type":"quantitative","title":"Energy (kcal/mol)"},"text":{"field":"t"},"size":{"field":"k","type":"nominal","scale":{"domain":["main","sub"],"range":[21,16]},"legend":null}}}
]},
{"width":370,"height":381,"layer":[
 {"data":{"name":"pts"},"transform":[{"filter":"datum.p===11"}],"mark":{"type":"point","shape":"square","filled":true,"color":"#000","opacity":1,"size":36},
  "encoding":{"x":{"field":"a","type":"quantitative","title":"Dihedral angle (degrees)","scale":{"domain":[-200,200],"nice":false,"zero":false},"axis":{"tickCount":100,"labelOverlap":false,"values":[-200,-190,-180,-170,-160,-150,-140,-130,-120,-110,-100,-90,-80,-70,-60,-50,-40,-30,-20,-10,0,10,20,30,40,50,60,70,80,90,100,110,120,130,140,150,160,170,180,190,200],"labelExpr":"datum.value % 50 === 0 ? format(datum.value,'d') : ''","tickSize":{"condition":{"test":"datum.value % 50 === 0","value":6},"value":3}}},
  "y":{"field":"e","type":"quantitative","title":"Energy (kcal/mol)","scale":{"domain":[-11,-2],"nice":false,"zero":false},"axis":{"tickCount":100,"labelOverlap":false,"values":[-10,-9,-8,-7,-6,-5,-4,-3,-2],"labelExpr":"datum.value % 2 === 0 ? format(datum.value,'d') : ''","tickSize":{"condition":{"test":"datum.value % 2 === 0","value":5},"value":3}}}}},
 {"data":{"name":"lab"},"transform":[{"filter":"datum.p===11"}],"mark":{"type":"text","font":"Liberation Sans","color":"#111","align":"center","baseline":"middle"},
  "encoding":{"x":{"field":"a","type":"quantitative","title":"Dihedral angle (degrees)"},"y":{"field":"e","type":"quantitative","title":"Energy (kcal/mol)"},"text":{"field":"t"},"size":{"field":"k","type":"nominal","scale":{"domain":["main","sub"],"range":[21,16]},"legend":null}}}
]},
{"width":370,"height":381,"layer":[
 {"data":{"name":"pts"},"transform":[{"filter":"datum.p===12"}],"mark":{"type":"point","shape":"square","filled":true,"color":"#000","opacity":1,"size":36},
  "encoding":{"x":{"field":"a","type":"quantitative","title":"Dihedral angle (degrees)","scale":{"domain":[-200,200],"nice":false,"zero":false},"axis":{"tickCount":100,"labelOverlap":false,"values":[-200,-190,-180,-170,-160,-150,-140,-130,-120,-110,-100,-90,-80,-70,-60,-50,-40,-30,-20,-10,0,10,20,30,40,50,60,70,80,90,100,110,120,130,140,150,160,170,180,190,200],"labelExpr":"datum.value % 50 === 0 ? format(datum.value,'d') : ''","tickSize":{"condition":{"test":"datum.value % 50 === 0","value":6},"value":3}}},
  "y":{"field":"e","type":"quantitative","title":"Energy (kcal/mol)","scale":{"domain":[-11,-1.35],"nice":false,"zero":false},"axis":{"tickCount":100,"labelOverlap":false,"values":[-10,-9,-8,-7,-6,-5,-4,-3,-2],"labelExpr":"datum.value % 2 === 0 ? format(datum.value,'d') : ''","tickSize":{"condition":{"test":"datum.value % 2 === 0","value":5},"value":3}}}}},
 {"data":{"name":"lab"},"transform":[{"filter":"datum.p===12"}],"mark":{"type":"text","font":"Liberation Sans","color":"#111","align":"center","baseline":"middle"},
  "encoding":{"x":{"field":"a","type":"quantitative","title":"Dihedral angle (degrees)"},"y":{"field":"e","type":"quantitative","title":"Energy (kcal/mol)"},"text":{"field":"t"},"size":{"field":"k","type":"nominal","scale":{"domain":["main","sub"],"range":[21,16]},"legend":null}}}
]}
],"spacing":155,"bounds":"flush"}
],"spacing":82},
{"width":1990,"height":169,"data":{"name":"cap"},"layer":[
 {"transform":[{"filter":"datum.s==='n'"}],"mark":{"type":"text","align":"left","baseline":"middle","font":"Liberation Serif","fontSize":37,"color":"#000","dx":-170},
  "encoding":{"x":{"datum":0,"type":"quantitative","scale":{"domain":[0,1]},"axis":null},"y":{"field":"line","type":"quantitative","scale":{"domain":[1,5],"reverse":true,"nice":false,"zero":false},"axis":null},"text":{"field":"t"}}},
 {"transform":[{"filter":"datum.s==='b'"}],"mark":{"type":"text","align":"left","baseline":"middle","font":"Liberation Serif","fontSize":36,"fontWeight":"bold","color":"#000","dx":-170},
  "encoding":{"x":{"datum":0,"type":"quantitative","axis":null},"y":{"field":"line","type":"quantitative","axis":null},"text":{"field":"t"}}},
 {"transform":[{"filter":"datum.s==='r'"}],"mark":{"type":"text","align":"left","baseline":"middle","font":"Liberation Serif","fontSize":37,"color":"#000","dx":-66},
  "encoding":{"x":{"datum":0,"type":"quantitative","axis":null},"y":{"field":"line","type":"quantitative","axis":null},"text":{"field":"t"}}},
 {"transform":[{"filter":"datum.s==='star'"}],"mark":{"type":"text","align":"left","baseline":"middle","font":"Liberation Serif","fontSize":26,"color":"#000","dx":-186,"dy":-11},
  "encoding":{"x":{"datum":0,"type":"quantitative","axis":null},"y":{"field":"line","type":"quantitative","axis":null},"text":{"field":"t"}}},
 {"transform":[{"filter":"datum.s==='foot'"}],"mark":{"type":"text","align":"left","baseline":"middle","font":"Liberation Serif","fontSize":35,"color":"#000","dx":-177,"dy":14},
  "encoding":{"x":{"datum":0,"type":"quantitative","axis":null},"y":{"field":"line","type":"quantitative","axis":null},"text":{"field":"t"}}}
]}
],
"spacing":42,
"config":{
 "view":{"stroke":null},
 "font":"Liberation Sans",
 "axis":{"grid":false,"domainColor":"#aaaaaa","domainWidth":2,"tickColor":"#888888","tickWidth":1.2,"labelColor":"#808080","labelFont":"Liberation Sans","labelFontSize":10,"labelFlush":false,"labelOverlap":false,"titleFont":"Liberation Sans","titleColor":"#000"},
 "axisX":{"titleFontSize":14,"titleFontWeight":"bold","titlePadding":18,"labelPadding":5},
 "axisY":{"titleFontSize":19,"titleFontWeight":"bold","titlePadding":8,"labelPadding":3}
}
}
